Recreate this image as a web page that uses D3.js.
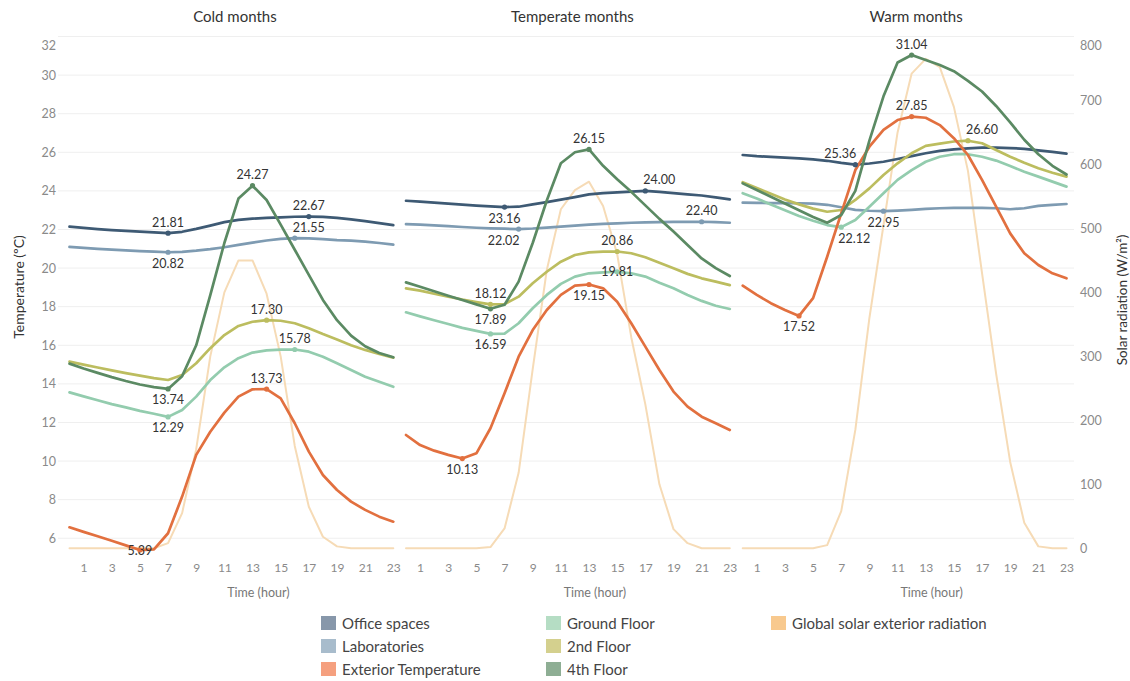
<!DOCTYPE html>
<html>
<head>
<meta charset="utf-8">
<script src="https://cdn.jsdelivr.net/npm/d3@7"></script>
<style>
  html, body { margin: 0; padding: 0; background: #ffffff; }
  svg { display: block; font-family: Lato, "Open Sans", sans-serif; }
</style>
</head>
<body>
<svg id="chart" width="1130" height="681"></svg>
<script>
// ---- data: hourly averages (hour 0..23) for each season group ----
const hours = d3.range(24);
const panelTitles = ["Cold months", "Temperate months", "Warm months"];
const seriesNames = ["Office spaces", "Laboratories", "Exterior Temperature",
  "Ground Floor", "2nd Floor", "4th Floor", "Global solar exterior radiation"];

// temperature (ºC): [cold, temperate, warm]
const officeSpaces = [
  [22.15, 22.08, 22.02, 21.97, 21.93, 21.89, 21.85, 21.81, 21.88, 22.03, 22.2, 22.38, 22.5, 22.56, 22.6, 22.63, 22.66, 22.67, 22.65, 22.6, 22.52, 22.43, 22.33, 22.23],
  [23.49, 23.44, 23.39, 23.34, 23.29, 23.24, 23.2, 23.16, 23.18, 23.3, 23.42, 23.55, 23.68, 23.82, 23.88, 23.92, 23.96, 24.0, 23.95, 23.88, 23.82, 23.76, 23.66, 23.56],
  [25.86, 25.8, 25.76, 25.72, 25.68, 25.63, 25.56, 25.45, 25.36, 25.42, 25.51, 25.65, 25.8, 25.95, 26.07, 26.15, 26.2, 26.24, 26.24, 26.22, 26.18, 26.1, 26.02, 25.93]
];
const laboratories = [
  [21.1, 21.05, 21.0, 20.96, 20.92, 20.88, 20.85, 20.82, 20.84, 20.9, 20.98, 21.08, 21.2, 21.32, 21.43, 21.51, 21.55, 21.54, 21.5, 21.45, 21.42, 21.37, 21.3, 21.22],
  [22.28, 22.25, 22.21, 22.17, 22.13, 22.09, 22.06, 22.04, 22.02, 22.05, 22.1, 22.15, 22.2, 22.25, 22.29, 22.32, 22.35, 22.37, 22.38, 22.39, 22.39, 22.40, 22.38, 22.35],
  [23.39, 23.38, 23.37, 23.37, 23.36, 23.34, 23.28, 23.15, 23.02, 22.97, 22.95, 22.98, 23.02, 23.07, 23.1, 23.12, 23.12, 23.12, 23.1, 23.05, 23.1, 23.22, 23.28, 23.32]
];
const exteriorTemp = [
  [6.57, 6.33, 6.1, 5.87, 5.63, 5.39, 5.42, 6.26, 8.16, 10.32, 11.52, 12.51, 13.34, 13.72, 13.73, 13.25, 11.96, 10.49, 9.28, 8.5, 7.9, 7.47, 7.12, 6.86],
  [11.35, 10.83, 10.54, 10.32, 10.13, 10.4, 11.7, 13.51, 15.41, 16.79, 17.83, 18.61, 19.09, 19.15, 18.95, 18.26, 17.14, 15.93, 14.72, 13.6, 12.82, 12.3, 11.96, 11.61],
  [19.09, 18.61, 18.18, 17.83, 17.52, 18.44, 20.59, 22.84, 25.08, 26.29, 27.16, 27.67, 27.85, 27.79, 27.41, 26.73, 25.86, 24.57, 23.18, 21.8, 20.77, 20.16, 19.73, 19.47]
];
const groundFloor = [
  [13.56, 13.35, 13.15, 12.95, 12.78, 12.6, 12.45, 12.29, 12.65, 13.34, 14.2, 14.86, 15.33, 15.62, 15.74, 15.77, 15.78, 15.67, 15.41, 15.07, 14.72, 14.37, 14.11, 13.85],
  [17.71, 17.5, 17.3, 17.1, 16.9, 16.75, 16.59, 16.6, 17.14, 17.92, 18.61, 19.18, 19.56, 19.73, 19.78, 19.81, 19.73, 19.56, 19.24, 18.95, 18.61, 18.3, 18.05, 17.88],
  [23.88, 23.6, 23.3, 23.0, 22.7, 22.45, 22.23, 22.12, 22.49, 23.18, 23.88, 24.57, 25.08, 25.51, 25.77, 25.9, 25.9, 25.77, 25.57, 25.29, 24.99, 24.74, 24.48, 24.22]
];
const secondFloor = [
  [15.15, 15.0, 14.85, 14.7, 14.56, 14.43, 14.3, 14.2, 14.46, 15.07, 15.85, 16.53, 17.0, 17.22, 17.30, 17.27, 17.14, 16.88, 16.58, 16.3, 16.0, 15.76, 15.55, 15.36],
  [18.95, 18.83, 18.67, 18.52, 18.37, 18.24, 18.12, 18.13, 18.52, 19.21, 19.81, 20.33, 20.68, 20.81, 20.85, 20.86, 20.77, 20.56, 20.28, 19.99, 19.7, 19.47, 19.3, 19.12],
  [24.45, 24.15, 23.85, 23.55, 23.3, 23.08, 22.92, 23.01, 23.53, 24.13, 24.82, 25.43, 25.95, 26.33, 26.45, 26.56, 26.60, 26.47, 26.12, 25.77, 25.46, 25.17, 24.94, 24.74]
];
const fourthFloor = [
  [15.05, 14.8, 14.57, 14.35, 14.15, 13.97, 13.83, 13.74, 14.4, 16.0, 18.6, 21.3, 23.6, 24.27, 23.53, 22.25, 20.95, 19.65, 18.35, 17.3, 16.5, 15.95, 15.6, 15.38],
  [19.26, 19.03, 18.8, 18.57, 18.35, 18.12, 17.89, 18.1, 19.3, 21.3, 23.5, 25.43, 26.0, 26.15, 25.3, 24.6, 23.95, 23.25, 22.55, 21.9, 21.2, 20.5, 20.0, 19.59],
  [24.39, 24.05, 23.7, 23.35, 23.0, 22.65, 22.35, 22.75, 24.0, 26.6, 28.9, 30.65, 31.04, 30.78, 30.52, 30.2, 29.7, 29.15, 28.4, 27.55, 26.65, 25.9, 25.3, 24.85]
];
// global solar exterior radiation (W/m²)
const solarRadiation = [
  [0, 0, 0, 0, 0, 0, 0, 8, 55, 155, 300, 400, 450, 450, 398, 300, 160, 65, 18, 3, 0, 0, 0, 0],
  [0, 0, 0, 0, 0, 0, 2, 31, 118, 280, 435, 530, 560, 573, 535, 460, 330, 225, 100, 30, 8, 0, 0, 0],
  [0, 0, 0, 0, 0, 0, 5, 58, 185, 360, 505, 650, 742, 765, 752, 690, 590, 430, 273, 135, 40, 3, 0, 0]
];

// axis ticks
const tempTicks = d3.range(6, 33, 2);
const solarTicks = d3.range(0, 801, 100);
const hourTicks = d3.range(1, 24, 2);

// annotated points: [panel, series key, hour, placement]
const annotations = [
  [0, "office", 7, "above"], [0, "office", 17, "above"],
  [0, "labs", 7, "below"], [0, "labs", 16, "aboveRight"],
  [0, "fourth", 13, "above"], [0, "fourth", 7, "below"],
  [0, "second", 14, "above"],
  [0, "ground", 16, "above"], [0, "ground", 7, "below"],
  [0, "exterior", 14, "above"], [0, "exterior", 5, "on"],
  [1, "fourth", 13, "above"], [1, "fourth", 6, "below"],
  [1, "office", 17, "aboveRight"], [1, "office", 7, "below"],
  [1, "labs", 21, "above"], [1, "labs", 8, "belowLeft"],
  [1, "second", 15, "above"], [1, "second", 6, "above"],
  [1, "ground", 15, "on"], [1, "ground", 6, "below"],
  [1, "exterior", 13, "below"], [1, "exterior", 4, "below"],
  [2, "fourth", 12, "above"],
  [2, "exterior", 12, "above"], [2, "exterior", 4, "below"],
  [2, "second", 16, "aboveRight"],
  [2, "office", 8, "aboveLeft"],
  [2, "labs", 10, "below"],
  [2, "ground", 7, "belowRight"]
];

// ---- series styling ----
const series = [
  { key: "solar",    name: seriesNames[6], values: solarRadiation, axis: "solar", line: "#f6dbb6", swatch: "#f8c98e", width: 2 },
  { key: "labs",     name: seriesNames[1], values: laboratories,   axis: "temp",  line: "#7e9bb2", swatch: "#a8bccc", width: 2.7 },
  { key: "office",   name: seriesNames[0], values: officeSpaces,   axis: "temp",  line: "#3e5a74", swatch: "#8797aa", width: 2.7 },
  { key: "ground",   name: seriesNames[3], values: groundFloor,    axis: "temp",  line: "#93ccae", swatch: "#b5ddc4", width: 2.7 },
  { key: "second",   name: seriesNames[4], values: secondFloor,    axis: "temp",  line: "#bcbd5f", swatch: "#d4d08e", width: 2.7 },
  { key: "exterior", name: seriesNames[2], values: exteriorTemp,   axis: "temp",  line: "#e2703f", swatch: "#f5a07f", width: 2.7 },
  { key: "fourth",   name: seriesNames[5], values: fourthFloor,    axis: "temp",  line: "#5b8a63", swatch: "#8eae94", width: 2.7 }
];
const byKey = Object.fromEntries(series.map(s => [s.key, s]));

// ---- layout ----
const svg = d3.select("#chart");
const paneLeft = [69.5, 406, 742.7];
const paneSpan = 323.8;
const plotTop = 36.5, plotBottom = 548.3;

const yTemp = d3.scaleLinear().domain([5.48, 32]).range([plotBottom, plotTop]);
const ySolar = d3.scaleLinear().domain([0, 800]).range([plotBottom, plotTop]);
const xScales = paneLeft.map(x0 => d3.scaleLinear().domain([0, 23]).range([x0, x0 + paneSpan]));

// gridlines
svg.append("g").selectAll("line").data(tempTicks).join("line")
  .attr("x1", 58).attr("x2", 1074)
  .attr("y1", d => yTemp(d)).attr("y2", d => yTemp(d))
  .attr("stroke", "#efefef").attr("stroke-width", 1);

// left axis
const leftAxis = svg.append("g").attr("transform", "translate(62,0)")
  .call(d3.axisLeft(yTemp).tickValues(tempTicks).tickSize(0).tickPadding(6));
leftAxis.select(".domain").remove();
leftAxis.selectAll("text").attr("fill", "#8a8a8a").style("font-size", "12.5px")
  .style("font-family", "Lato, sans-serif")
  .attr("dy", d => d === 32 ? "1.05em" : "0.32em");

// right axis
const rightAxis = svg.append("g").attr("transform", "translate(1074,0)")
  .call(d3.axisRight(ySolar).tickValues(solarTicks).tickSize(0).tickPadding(6));
rightAxis.select(".domain").remove();
rightAxis.selectAll("text").attr("fill", "#8a8a8a").style("font-size", "12.5px")
  .style("font-family", "Lato, sans-serif")
  .attr("dy", d => d === 800 ? "1.05em" : "0.32em");

// axis titles
svg.append("text").attr("transform", "translate(24,287) rotate(-90)")
  .attr("text-anchor", "middle").attr("fill", "#333").style("font-size", "14px")
  .text("Temperature (ºC)");
svg.append("text").attr("transform", "translate(1127,300) rotate(-90)")
  .attr("text-anchor", "middle").attr("fill", "#333").style("font-size", "13.5px")
  .text("Solar radiation (W/m²)");

const titleShift = [3.5, 4.5, 11.5];

panelTitles.forEach((title, p) => {
  const x = xScales[p];
  const g = svg.append("g");

  // panel header
  g.append("text").attr("x", x(11.5) + titleShift[p]).attr("y", 22)
    .attr("text-anchor", "middle").attr("fill", "#333").style("font-size", "15px")
    .text(title);

  // hour axis
  const hx = g.append("g").attr("transform", `translate(0,${plotBottom})`)
    .call(d3.axisBottom(x).tickValues(hourTicks).tickSize(0).tickPadding(15));
  hx.select(".domain").remove();
  hx.selectAll("text").attr("fill", "#8a8a8a").style("font-size", "12px")
    .style("font-family", "Lato, sans-serif");

  g.append("text").attr("x", x(11.5) + 27).attr("y", 597)
    .attr("text-anchor", "middle").attr("fill", "#777").style("font-size", "12.5px")
    .text("Time (hour)");

  // lines
  series.forEach(s => {
    const y = s.axis === "solar" ? ySolar : yTemp;
    const line = d3.line().x((d, i) => x(hours[i])).y(d => y(d));
    g.append("path").datum(s.values[p])
      .attr("d", line)
      .attr("fill", "none")
      .attr("stroke", s.line)
      .attr("stroke-width", s.width)
      .attr("stroke-linejoin", "round")
      .attr("stroke-linecap", "round");
  });
});

// annotated points and their value labels
const placements = {
  above: [0, -11], below: [0, 11], on: [0, 0],
  aboveRight: [14, -11], aboveLeft: [-15, -11],
  belowRight: [13, 11], belowLeft: [-15, 11]
};
const fmt = d3.format(".2f");
const annG = svg.append("g");
annotations.forEach(([p, key, h, place]) => {
  const s = byKey[key];
  const v = s.values[p][h];
  const cx = xScales[p](h), cy = yTemp(v);
  annG.append("circle").attr("cx", cx).attr("cy", cy).attr("r", 2.6).attr("fill", s.line);
});
annotations.forEach(([p, key, h, place]) => {
  const s = byKey[key];
  const v = s.values[p][h];
  const [dx, dy] = placements[place];
  annG.append("text")
    .attr("x", xScales[p](h) + dx).attr("y", yTemp(v) + dy)
    .attr("text-anchor", "middle").attr("dominant-baseline", "central")
    .attr("fill", "#333").style("font-size", "12.5px")
    .text(fmt(v));
});

// legend
const legendOrder = [
  ["office", "labs", "exterior"],
  ["ground", "second", "fourth"],
  ["solar"]
];
const legendX = [321, 546, 771];
const legendY = [623, 646, 669];
const lg = svg.append("g");
legendOrder.forEach((col, c) => {
  col.forEach((key, r) => {
    const s = byKey[key];
    lg.append("rect").attr("x", legendX[c]).attr("y", legendY[r] - 7)
      .attr("width", 15).attr("height", 14).attr("fill", s.swatch);
    lg.append("text").attr("x", legendX[c] + 21).attr("y", legendY[r])
      .attr("dominant-baseline", "central").attr("fill", "#444")
      .style("font-size", "15px").text(s.name);
  });
});
</script>
</body>
</html>
